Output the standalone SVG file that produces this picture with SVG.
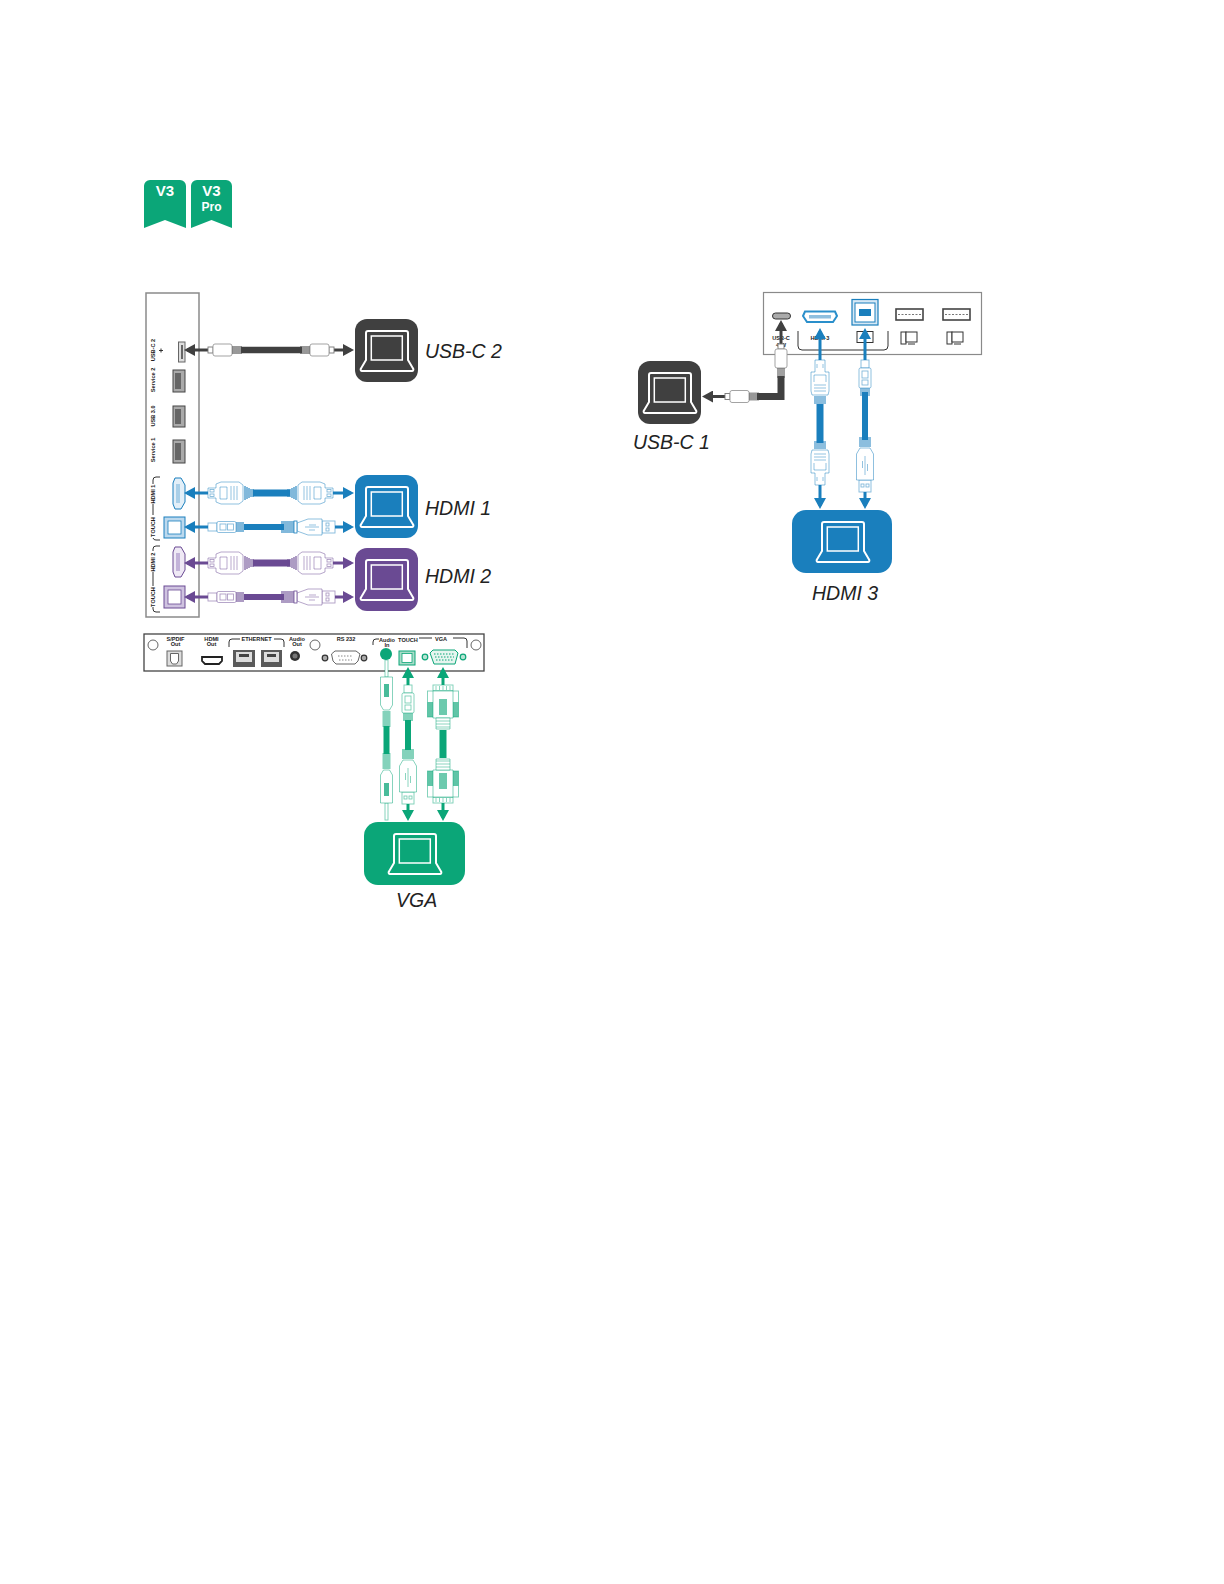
<svg xmlns="http://www.w3.org/2000/svg" width="1224" height="1584" viewBox="0 0 1224 1584">
<style>
text{font-family:"Liberation Sans",Arial,sans-serif}
.lbl{font-size:19.500px;font-style:italic;fill:#222}
.t{font-size:5.600px;font-weight:bold;fill:#222;text-anchor:middle}
.bt{font-size:15px;font-weight:bold;fill:#fff;text-anchor:middle}
.panel{fill:#fff;stroke:#8a8a8a;stroke-width:1.500}
.br{fill:none;stroke:#333;stroke-width:1}
.plug{fill:#fff;stroke:currentColor;stroke-width:.9;stroke-opacity:.55}
.fine{fill:none;stroke:currentColor;stroke-width:.8;stroke-opacity:.6}
.rel{stroke:currentColor;stroke-width:1.100;fill:none}
.a3,.a3e,.ln{stroke-width:3;fill:none;stroke:currentColor}
.k{color:#404040}.b{color:#1a7fbd}.p{color:#6a4a93}.g{color:#0ba678}
.k .a3{marker-start:url(#ahk)}.k .a3e{marker-end:url(#ahk)}
.b .a3{marker-start:url(#ahb)}.b .a3e{marker-end:url(#ahb)}
.p .a3{marker-start:url(#ahp)}.p .a3e{marker-end:url(#ahp)}
.g .a3{marker-start:url(#ahg)}.g .a3e{marker-end:url(#ahg)}
.cbl{fill:none;stroke:currentColor}
.eth{fill:#5a5a5a}
</style>
<defs>
<symbol id="lap" overflow="visible" width="63" height="63">
<path d="M11 41V14a2 2 0 0 1 2-2h38a2 2 0 0 1 2 2V41L58 49.500a1.500 1.500 0 0 1-1.300 2.500H7.300a1.500 1.500 0 0 1-1.300-2.500Z" fill="none" stroke="#fff" stroke-width="2"/>
<rect x="16.300" y="17" width="31" height="24" fill="none" stroke="#fff" stroke-width="1.500"/>
</symbol>
<marker id="ahk" viewBox="0 0 11 12" refX="8" refY="6" markerWidth="11" markerHeight="12" markerUnits="userSpaceOnUse" orient="auto-start-reverse"><path d="M0 0L11 6L0 12Z" fill="#404040"/></marker>
<marker id="ahb" viewBox="0 0 11 12" refX="8" refY="6" markerWidth="11" markerHeight="12" markerUnits="userSpaceOnUse" orient="auto-start-reverse"><path d="M0 0L11 6L0 12Z" fill="#1a7fbd"/></marker>
<marker id="ahp" viewBox="0 0 11 12" refX="8" refY="6" markerWidth="11" markerHeight="12" markerUnits="userSpaceOnUse" orient="auto-start-reverse"><path d="M0 0L11 6L0 12Z" fill="#6a4a93"/></marker>
<marker id="ahg" viewBox="0 0 11 12" refX="8" refY="6" markerWidth="11" markerHeight="12" markerUnits="userSpaceOnUse" orient="auto-start-reverse"><path d="M0 0L11 6L0 12Z" fill="#0ba678"/></marker>
<g id="hdmi">
<path class="plug" d="M0 -5H8V-9L13 -11H31L35 -8V8L31 11H13L8 9V5H0Z"/>
<rect class="fine" x="2" y="-3.500" width="4" height="2.500"/><rect class="fine" x="2" y="1" width="4" height="2.500"/>
<path class="fine" d="M12 -6H19V6H12ZM23 -7V7M26 -7V7M29 -7V7"/>
<path class="rel" d="M37 -7V7M39 -6V6M41 -5V5M43 -4V4M45 -4V4"/>
</g>
<g id="usbb">
<rect class="plug" x="0" y="-4" width="9" height="8"/>
<rect class="plug" x="9" y="-5.500" width="19" height="11" rx="1.500"/>
<rect class="fine" x="12" y="-3" width="6" height="6"/><rect class="fine" x="19.500" y="-3" width="6" height="6"/>
<path class="rel" d="M29 -5V5M31 -5V5M33 -5V5M35 -5V5"/>
</g>
<g id="usba">
<rect class="plug" x="-13" y="-6" width="13" height="12"/>
<rect class="fine" x="-9" y="-4" width="3" height="3"/><rect class="fine" x="-9" y="1" width="3" height="3"/>
<path class="plug" d="M-13 -8H-27L-38 -4V4L-27 8H-13Z"/>
<path class="fine" d="M-30 0H-16M-26 -2L-19 -2M-26 3H-20"/>
<path class="rel" d="M-41 -6V6M-43 -6V6M-45 -6V6M-47 -6V6M-49 -6V6M-51 -6V6M-53 -6V6"/>
<rect x="-41" y="-6" width="3" height="12" fill="#fff" stroke="currentColor" stroke-width=".8"/>
</g>
<g id="usbc">
<rect x="0" y="-3" width="5" height="6" fill="#fff" stroke="#777" stroke-width=".9"/>
<rect x="5" y="-6" width="19" height="12" rx="2" fill="#fff" stroke="#999" stroke-width=".9"/>
<path d="M25 -4V4M27 -4V4M29 -4V4M31 -4V4M33 -4V4" stroke="#444" stroke-width="1.100"/>
</g>
<g id="jack">
<rect class="plug" x="-1.500" y="-4" width="3" height="17"/>
<path class="plug" d="M-6 13H6V41L3 46H-3L-6 41Z"/>
<rect x="-2.500" y="20" width="5" height="13" fill="currentColor" opacity=".75"/>
<path class="rel" d="M-4 48H4M-4 50H4M-4 52H4M-4 54H4M-4 56H4M-4 58H4M-4 60H4M-4 62H4"/>
</g>
<g id="vga">
<rect class="plug" x="-10" y="0" width="20" height="6"/>
<path class="fine" d="M-7 1V5M-3.500 1V5M0 1V5M3.500 1V5M7 1V5"/>
<rect class="plug" x="-15.500" y="6" width="31" height="26"/>
<path d="M-15.500 17H-10V32H-15.500ZM15.500 17H10V32H15.500Z" fill="currentColor" opacity=".65"/>
<path class="plug" d="M-10 6H10V33H-10Z"/>
<path d="M-4 14H4V30H-4Z" fill="currentColor" opacity=".6"/>
<path class="plug" d="M-7 33H7V44H-7Z"/>
<path class="fine" d="M-7 36H7M-7 39H7M-7 42H7"/>
</g>
<g id="usbbv">
<rect class="plug" x="-4" y="0" width="8" height="8"/>
<rect class="plug" x="-6" y="8" width="12" height="20" rx="1.500"/>
<rect class="fine" x="-3" y="11" width="6" height="7"/><rect class="fine" x="-3" y="20" width="6" height="5"/>
<path class="rel" d="M-5 29H5M-5 31H5M-5 33H5M-5 35H5"/>
</g>
<g id="usbav">
<rect class="plug" x="-6" y="-12" width="12" height="12"/>
<rect class="fine" x="-4" y="-8" width="3" height="3"/><rect class="fine" x="1" y="-8" width="3" height="3"/>
<path class="plug" d="M-8.500 -12V-38L-5 -44H5L8.500 -38V-12Z"/>
<path class="fine" d="M0 -36V-17M-2.500 -31V-24M2.500 -28V-21"/>
<path class="rel" d="M-6 -46H6M-6 -48H6M-6 -50H6M-6 -52H6M-6 -54H6"/>
</g>
<g id="hdmiv">
<path class="plug" d="M-5 0V-12H-9V-31L-8 -35H8L9 -31V-12H5V0Z"/>
<path class="fine" d="M-6 -31H6M-6 -28H6M-6 -25H6M-6 -22V-15H6V-22M-3 -8V-4M3 -8V-4"/>
<path class="rel" d="M-6 -37H6M-6 -39H6M-6 -41H6M-6 -43H6"/>
</g>
</defs>

<g id="badge-v3">
<path d="M150 180H180a6 6 0 0 1 6 6V228L165 220L144 228V186a6 6 0 0 1 6-6Z" fill="#0ba678"/>
<text class="bt" x="165" y="196">V3</text>
</g>
<g id="badge-v3-pro">
<path d="M197 180H226a6 6 0 0 1 6 6V228L211.500 220L191 228V186a6 6 0 0 1 6-6Z" fill="#0ba678"/>
<text class="bt" x="211.500" y="196">V3</text>
<text class="bt" x="211.500" y="211" style="font-size:12px">Pro</text>
</g>

<g id="panel-side">
<rect class="panel" x="146" y="293" width="53" height="324"/>
<text class="t" transform="translate(155,350) rotate(-90)">USB-C 2</text>
<text class="t" transform="translate(155,380) rotate(-90)">Service 2</text>
<text class="t" transform="translate(155,416) rotate(-90)">USB 3.0</text>
<text class="t" transform="translate(155,450) rotate(-90)">Service 1</text>
<text class="t" transform="translate(155,494) rotate(-90)">HDMI 1</text>
<text class="t" transform="translate(155,527) rotate(-90)">TOUCH</text>
<text class="t" transform="translate(155,562) rotate(-90)">HDMI 2</text>
<text class="t" transform="translate(155,597) rotate(-90)">TOUCH</text>
<path d="M163 350.500H159M161 348.500V352.500" stroke="#333" fill="none"/>
<rect x="178.500" y="342" width="6.500" height="20" fill="#ddd" stroke="#666"/>
<rect x="181" y="345" width="2" height="14" fill="#666"/>
<rect x="173" y="370" width="12" height="22" fill="#aaa" stroke="#444"/><rect x="175" y="373" width="6" height="16" fill="#666"/>
<rect x="173" y="406" width="12" height="21" fill="#aaa" stroke="#444"/><rect x="175" y="409" width="6" height="15" fill="#666"/>
<rect x="173" y="440" width="12" height="23" fill="#aaa" stroke="#444"/><rect x="175" y="443" width="6" height="17" fill="#666"/>
<path class="br" d="M160 477H156a3 3 0 0 0-3 3V484M153 504V515M153 538a3 3 0 0 0 3 2H160M160 546H156a3 3 0 0 0-3 3V551M153 572V586M153 607V609a3 3 0 0 0 3 3H160"/>
<path d="M175 478H181L185 485V502L181 509H175L173 504V483Z" fill="#e3eff8" stroke="#1a7fbd"/>
<rect x="176" y="484" width="4" height="19" fill="#a9cfe8"/>
<rect x="164" y="517" width="21" height="21" fill="#bcd9ee" stroke="#1a7fbd"/>
<rect x="168" y="521" width="13" height="13" fill="#fff" stroke="#1a7fbd" stroke-width=".8"/>
<path d="M175 547H181L185 554V570L181 577H175L173 572V552Z" fill="#efe9f5" stroke="#6a4a93"/>
<rect x="176" y="553" width="4" height="18" fill="#c3b3d9"/>
<rect x="164" y="586" width="21" height="22" fill="#cfc3e0" stroke="#6a4a93"/>
<rect x="168" y="590" width="13" height="14" fill="#fff" stroke="#6a4a93" stroke-width=".8"/>
</g>

<g id="panel-bottom">
<rect x="144" y="634" width="340" height="37" fill="#fff" stroke="#444" stroke-width="1.300"/>
<circle cx="153" cy="645" r="5" fill="#fff" stroke="#666"/>
<circle cx="315" cy="645" r="5" fill="#fff" stroke="#666"/>
<circle cx="476" cy="645" r="5" fill="#fff" stroke="#666"/>
<text class="t" x="175.500" y="641">S/PDIF</text><text class="t" x="175.500" y="646">Out</text>
<text class="t" x="211.500" y="641">HDMI</text><text class="t" x="211.500" y="646">Out</text>
<text class="t" x="256.500" y="641">ETHERNET</text>
<text class="t" x="297" y="641">Audio</text><text class="t" x="297" y="646">Out</text>
<text class="t" x="346" y="641">RS 232</text>
<text class="t" x="387" y="642">Audio</text><text class="t" x="387" y="647">In</text>
<text class="t" x="408" y="642">TOUCH</text>
<text class="t" x="441" y="641">VGA</text>
<path class="br" d="M229 647V642a3 3 0 0 1 3-3H240M274 639H281a3 3 0 0 1 3 3V647M373 645V642a3 3 0 0 1 3-3H379M419 638H432M453 638H464a3 3 0 0 1 3 3V648"/>
<rect x="167" y="651" width="15" height="15" fill="#ddd" stroke="#666"/><path d="M170.500 653.500H178.500V661L176.500 664H172.500L170.500 661Z" fill="#fff" stroke="#666"/>
<path d="M202 657H222V661L219 664H205L202 661Z" fill="#fff" stroke="#222" stroke-width="1.800"/>
<rect class="eth" x="233" y="650" width="22" height="17"/><rect x="236" y="652" width="16" height="10" fill="#ddd"/><rect x="239" y="654" width="10" height="3" fill="#444"/>
<rect class="eth" x="261" y="650" width="21" height="17"/><rect x="264" y="652" width="15" height="10" fill="#ddd"/><rect x="267" y="654" width="9" height="3" fill="#444"/>
<circle cx="295" cy="656" r="5" fill="#333"/><circle cx="295" cy="656" r="2.500" fill="#777"/>
<circle cx="325" cy="658" r="2.800" fill="#aaa" stroke="#333" stroke-width="1.200"/><circle cx="364" cy="658" r="2.800" fill="#aaa" stroke="#333" stroke-width="1.200"/>
<path d="M335 651H356L360 654L358 661L355 664H336L333 661L331.500 654Z" fill="#fff" stroke="#666"/>
<path d="M338 656H353M339 660H352" stroke="#888" stroke-dasharray="1.500 1.500"/>
<circle cx="386" cy="654" r="6" fill="#0ba678"/>
<rect x="399" y="651" width="16" height="14" fill="#a8dcc8" stroke="#0ba678"/><rect x="402" y="653.500" width="10" height="9" fill="#fff" stroke="#0ba678" stroke-width=".8"/>
<circle cx="425" cy="657" r="2.800" fill="#b7e3d3" stroke="#0ba678" stroke-width="1.200"/><circle cx="463" cy="657" r="2.800" fill="#b7e3d3" stroke="#0ba678" stroke-width="1.200"/>
<path d="M433 650H455L458 653L455 664H434L430 653Z" fill="#e6f5ef" stroke="#0ba678"/>
<path d="M434 654H455M435 657H454M436 660H453" stroke="#0ba678" stroke-dasharray="1.500 1.500"/>
</g>

<g id="panel-top">
<rect x="763.500" y="292.500" width="218" height="62" fill="#fff" stroke="#8a8a8a" stroke-width="1.200"/>
<rect x="772.500" y="313" width="18" height="6" rx="3" fill="#aaa" stroke="#333"/>
<path d="M805 311.500H835L837 316L833 322H807L803 316Z" fill="#fff" stroke="#2a8fcb" stroke-width="2"/>
<rect x="809" y="315" width="22" height="3.500" fill="#8fbfdf"/>
<rect x="852" y="299.500" width="26" height="25.500" fill="#d6e8f5" stroke="#1a7fbd" stroke-width="1.200"/>
<rect x="855" y="303" width="20" height="19" fill="#fff" stroke="#1a7fbd"/>
<rect x="859" y="309" width="12" height="7" fill="#1a7fbd"/>
<rect x="896" y="309" width="27" height="11" fill="#fff" stroke="#444" stroke-width="1.600"/><path d="M898 314.500H921" stroke="#777" stroke-dasharray="2 1.500"/>
<rect x="943" y="309" width="27" height="11" fill="#fff" stroke="#444" stroke-width="1.600"/><path d="M945 314.500H968" stroke="#777" stroke-dasharray="2 1.500"/>
<path class="br" d="M798 331V346a4 4 0 0 0 4 4H884a4 4 0 0 0 4-4V331" stroke-width="1.200"/>
<text class="t" x="781" y="340">USB-C</text>
<text class="t" x="781" y="347">4 W</text>
<text class="t" x="820" y="340">HDMI 3</text>
<rect x="857" y="331.500" width="16" height="11" fill="#fff" stroke="#333"/>
<g fill="#fff" stroke="#333"><rect x="901" y="332" width="5" height="12"/><rect x="906" y="332" width="11" height="10"/><path d="M908 344H915"/><rect x="947" y="332" width="5" height="12"/><rect x="952" y="332" width="11" height="10"/><path d="M954 344H961"/></g>
</g>

<g id="connectors" fill="none">
<g class="k">
<path class="a3" d="M187 350H208"/><path class="a3e" d="M334 350H351"/>
<path class="cbl" d="M241 350H302" stroke-width="6.500"/>
<use href="#usbc" x="208" y="350"/>
<use href="#usbc" transform="translate(334,350) scale(-1,1)"/>
</g>
<g class="b">
<path class="a3" d="M187 493H208"/><path class="a3e" d="M333 493H351"/>
<path class="cbl" d="M253 493H290" stroke-width="7"/>
<use href="#hdmi" x="208" y="493"/>
<use href="#hdmi" transform="translate(333,493) scale(-1,1)"/>
<path class="a3" d="M187 527H208"/><path class="a3e" d="M335 527H351"/>
<path class="cbl" d="M244 527H284" stroke-width="6"/>
<use href="#usbb" x="208" y="527"/><use href="#usba" x="335" y="527"/>
</g>
<g class="p">
<path class="a3" d="M187 563H208"/><path class="a3e" d="M333 563H351"/>
<path class="cbl" d="M253 563H290" stroke-width="7"/>
<use href="#hdmi" x="208" y="563"/>
<use href="#hdmi" transform="translate(333,563) scale(-1,1)"/>
<path class="a3" d="M187 597H208"/><path class="a3e" d="M335 597H351"/>
<path class="cbl" d="M244 597H284" stroke-width="6"/>
<use href="#usbb" x="208" y="597"/><use href="#usba" x="335" y="597"/>
</g>
<g class="g">
<path class="cbl" d="M386.500 726V754" stroke-width="6"/>
<use href="#jack" x="386.500" y="664"/>
<use href="#jack" transform="translate(386.500,816) scale(1,-1)"/>
<path class="a3" d="M408 670V686"/><path class="a3e" d="M408 803V818"/>
<path class="cbl" d="M408 720V750" stroke-width="6"/>
<use href="#usbbv" x="408" y="685"/><use href="#usbav" x="408" y="804"/>
<path class="a3" d="M443 670V686"/><path class="a3e" d="M443 802V818"/>
<path class="cbl" d="M443 730V758" stroke-width="7"/>
<use href="#vga" x="443" y="685"/>
<use href="#vga" transform="translate(443,803) scale(1,-1)"/>
</g>
<g class="k">
<path class="a3" d="M781 323V351"/>
<path class="cbl" d="M781 376V396.500H757" stroke-width="7"/>
<path class="a3e" d="M725 396.500H705"/>
<use href="#usbc" x="725" y="396.500"/>
<g transform="translate(781,344) rotate(90)"><use href="#usbc"/></g>
</g>
<g class="b">
<path class="a3" d="M820 331V362"/>
<path class="a3e" d="M820 484V506"/>
<path class="cbl" d="M820 404V443" stroke-width="7"/>
<use href="#hdmiv" transform="translate(820,360) scale(1,-1)"/>
<use href="#hdmiv" x="820" y="485"/>
<path class="a3" d="M865 331V368"/>
<path class="a3e" d="M865 491V506"/>
<path class="cbl" d="M865 392V440" stroke-width="6"/>
<use href="#usbbv" x="865" y="360"/><use href="#usbav" x="865" y="492"/>
</g>
</g>

<g id="node-usbc2"><rect x="355" y="319" width="63" height="63" rx="12" fill="#404040"/><use href="#lap" x="355" y="319"/><text class="lbl" x="425" y="358">USB-C 2</text></g>
<g id="node-hdmi1"><rect x="355" y="475" width="63" height="63" rx="12" fill="#1a7fbd"/><use href="#lap" x="355" y="475"/><text class="lbl" x="425" y="515">HDMI 1</text></g>
<g id="node-hdmi2"><rect x="355" y="548" width="63" height="63" rx="12" fill="#6a4a93"/><use href="#lap" x="355" y="548"/><text class="lbl" x="425" y="583">HDMI 2</text></g>
<g id="node-vga"><rect x="364" y="822" width="101" height="63" rx="14" fill="#0ba678"/><use href="#lap" x="383" y="822"/><text class="lbl" x="396" y="907">VGA</text></g>
<g id="node-usbc1"><rect x="638" y="361" width="63" height="63" rx="12" fill="#404040"/><use href="#lap" x="638" y="361"/><text class="lbl" x="633" y="449">USB-C 1</text></g>
<g id="node-hdmi3"><rect x="792" y="510" width="100" height="63" rx="14" fill="#1a7fbd"/><use href="#lap" x="811" y="510"/><text class="lbl" x="812" y="600">HDMI 3</text></g>
</svg>
